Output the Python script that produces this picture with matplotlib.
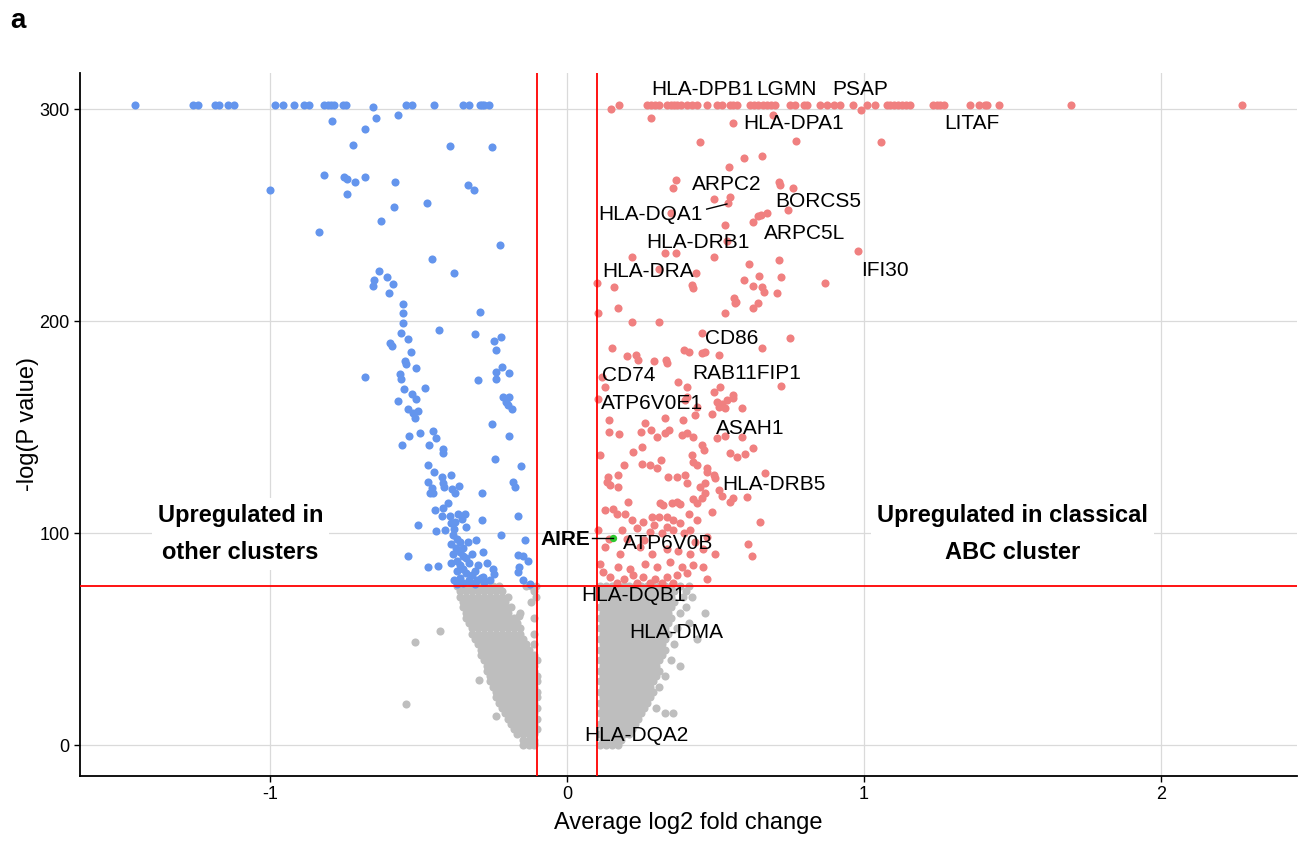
import numpy as np
import matplotlib
matplotlib.use("Agg")
import matplotlib.pyplot as plt

plt.rcParams['font.family'] = ['Liberation Sans', 'DejaVu Sans']
plt.rcParams['axes.unicode_minus'] = False

# ── data ──────────────────────────────────────────────────────────────────────
FC_CUT = 0.1
P_CUT = 75

# points capped at the top of the plot (-log p ~ 302)
blue_top_x = [-1.455, -1.259, -1.242, -1.185, -1.172, -1.141, -1.121, -0.983, -0.956,
              -0.919, -0.886, -0.869, -0.818, -0.805, -0.795, -0.785, -0.754, -0.744,
              -0.542, -0.522, -0.448, -0.350, -0.330, -0.293, -0.286, -0.279, -0.263]
red_top_x = [0.175, 0.268, 0.282, 0.296, 0.310, 0.336, 0.350, 0.360, 0.369, 0.385, 0.403,
             0.420, 0.437, 0.470, 0.504, 0.521, 0.549, 0.560, 0.571, 0.616, 0.630, 0.644,
             0.660, 0.672, 0.686, 0.700, 0.751, 0.766, 0.796, 0.808, 0.852, 0.874, 0.897,
             0.919, 0.964, 1.009, 1.037, 1.076, 1.088, 1.099, 1.113, 1.127, 1.140, 1.153,
             1.232, 1.245, 1.256, 1.269, 1.357, 1.387, 1.407, 1.414, 1.455, 1.697, 2.273]
TOP_Y = 302

blue_pts = [
    (-0.655, 301), (-0.791, 294.5), (-0.642, 296), (-0.57, 297), (-0.68, 290.5), (-0.72, 283),
    (-0.395, 282.5), (-0.253, 282), (-0.82, 269), (-0.75, 268), (-0.74, 267), (-0.715, 265.5),
    (-0.68, 268), (-0.58, 265.7), (-1.0, 262), (-0.74, 260), (-0.333, 264), (-0.313, 262),
    (-0.583, 253.8), (-0.471, 255.6), (-0.626, 247), (-0.835, 242), (-0.226, 236),
    (-0.455, 229.4), (-0.633, 223.6), (-0.65, 219.5), (-0.606, 221), (-0.586, 217.6),
    (-0.653, 216.3), (-0.599, 213.3), (-0.38, 222.8), (-0.552, 208), (-0.552, 204),
    (-0.293, 204.4), (-0.552, 199), (-0.431, 196), (-0.559, 194.3), (-0.535, 191.5),
    (-0.31, 193.9), (-0.246, 190.6), (-0.222, 192.5), (-0.596, 189.6), (-0.589, 188.4),
    (-0.525, 185.4), (-0.24, 186.3), (-0.545, 181), (-0.542, 179.7), (-0.51, 178),
    (-0.219, 178.4), (-0.239, 176), (-0.195, 175.6), (-0.239, 172.6), (-0.68, 173.7),
    (-0.562, 175), (-0.559, 172.8), (-0.3, 172.2), (-0.549, 168), (-0.478, 168.4),
    (-0.522, 165.6), (-0.508, 163.2), (-0.569, 162.3), (-0.215, 164.3), (-0.195, 164.3),
    (-0.205, 161.8), (-0.199, 160.2), (-0.185, 158.6), (-0.535, 158.5), (-0.519, 156.6),
    (-0.502, 157.7), (-0.512, 154.2), (-0.253, 151.4), (-0.495, 147.3), (-0.532, 145.8),
    (-0.451, 148), (-0.441, 144.8), (-0.195, 145.9), (-0.556, 141.5), (-0.465, 141.5),
    (-0.418, 139.8), (-0.418, 137.7), (-0.242, 135), (-0.468, 132), (-0.448, 129),
    (-0.155, 131.7), (-0.468, 124.2), (-0.421, 126.4), (-0.391, 127.4), (-0.418, 123.7),
    (-0.455, 121.2), (-0.461, 118.8), (-0.451, 119), (-0.414, 121.5), (-0.387, 120.6),
    (-0.364, 122.3), (-0.377, 118.7), (-0.182, 124), (-0.175, 121.7), (-0.286, 118.8),
    (-0.401, 114), (-0.444, 110.8), (-0.418, 111.8), (-0.421, 108), (-0.394, 108),
    (-0.367, 109), (-0.343, 109.1), (-0.353, 106.8), (-0.502, 103.8), (-0.441, 101),
    (-0.411, 101.4), (-0.391, 104.9), (-0.377, 105.3), (-0.34, 103), (-0.286, 106.1),
    (-0.165, 108), (-0.222, 99.2), (-0.141, 96.7), (-0.333, 95.9), (-0.306, 96.7),
    (-0.535, 89), (-0.468, 84), (-0.434, 84.6), (-0.283, 91), (-0.165, 89.6), (-0.148, 89.3),
    (-0.131, 86.8), (-0.249, 83), (-0.246, 80.7), (-0.162, 84), (-0.165, 81.7),
    (-0.148, 77.8), (-0.125, 75.9), (-0.3, 84.9), (-0.27, 85.8), (-0.283, 79.4),
    (-0.303, 77.8), (-0.35, 76.4), (-0.327, 77), (-0.38, 102), (-0.385, 99), (-0.37, 97),
    (-0.39, 95), (-0.375, 93), (-0.36, 91), (-0.385, 90), (-0.35, 89), (-0.37, 87),
    (-0.36, 85), (-0.34, 88), (-0.33, 86), (-0.35, 83), (-0.37, 82), (-0.34, 81),
    (-0.32, 80), (-0.36, 79), (-0.33, 78), (-0.38, 78), (-0.31, 82), (-0.29, 79),
    (-0.39, 86), (-0.36, 96), (-0.35, 93), (-0.32, 90), (-0.37, 76), (-0.31, 76),
    (-0.28, 77), (-0.26, 78),
]

red_pts = [
    (0.148, 300), (0.989, 299.5), (0.282, 295.6), (0.694, 297), (0.558, 293.6), (0.446, 284.4),
    (0.77, 284.9), (1.057, 284.4), (0.597, 276.7), (0.656, 278), (0.545, 272.5), (0.367, 266.5),
    (0.356, 262.6), (0.495, 257.4), (0.549, 258.3), (0.543, 255.5), (0.714, 265.7),
    (0.717, 264.2), (0.76, 262.6), (0.745, 252.4), (0.644, 249.7), (0.653, 250), (0.672, 250.8),
    (0.625, 246.5), (0.35, 251.1), (0.53, 245.4), (0.538, 237.9), (0.218, 230.3), (0.33, 232.2),
    (0.367, 231.9), (0.493, 230), (0.979, 233), (0.714, 228.8), (0.613, 226.9), (0.308, 224.5),
    (0.434, 222.5), (0.647, 221.2), (0.72, 220.6), (0.597, 219.3), (0.869, 218), (0.1, 217.8),
    (0.159, 216.2), (0.42, 217), (0.423, 215.4), (0.627, 216.5), (0.656, 215.9), (0.663, 213.5),
    (0.708, 213), (0.562, 210.7), (0.568, 209.1), (0.644, 208.3), (0.625, 206), (0.173, 206),
    (0.566, 208.5), (0.105, 203.6), (0.532, 203.6), (0.218, 199.7), (0.308, 199.7),
    (0.454, 194.5), (0.751, 192.1), (0.656, 187.1), (0.15, 187.1), (0.395, 186.3),
    (0.412, 185.5), (0.454, 184.7), (0.465, 185.5), (0.51, 184), (0.203, 183.5), (0.232, 184),
    (0.237, 181.6), (0.291, 181.1), (0.333, 181.6), (0.336, 180), (0.117, 173.4),
    (0.375, 171.4), (0.128, 168.7), (0.403, 168.7), (0.493, 166.6), (0.515, 168.7),
    (0.72, 169.3), (0.557, 165.3), (0.56, 163.9), (0.105, 163), (0.403, 164.2), (0.397, 162.7),
    (0.504, 161.9), (0.521, 161.1), (0.538, 162.7), (0.512, 159.6), (0.532, 158.8),
    (0.588, 159.1), (0.437, 159.6), (0.431, 155.7), (0.487, 156.1), (0.33, 154.1),
    (0.142, 153.3), (0.39, 153.3), (0.263, 151.7), (0.142, 147.8), (0.176, 146.6),
    (0.248, 147.8), (0.283, 148.6), (0.302, 145.4), (0.33, 147), (0.343, 148.6), (0.386, 146.2),
    (0.403, 147.3), (0.425, 145.1), (0.504, 144.6), (0.532, 145.8), (0.588, 145.4),
    (0.251, 140.7), (0.221, 138.4), (0.454, 141.5), (0.462, 139.3), (0.625, 139.9),
    (0.111, 136.8), (0.42, 136.8), (0.549, 137.6), (0.571, 135.9), (0.599, 137.2),
    (0.315, 134.6), (0.425, 133.5), (0.437, 132), (0.19, 132), (0.251, 132.8), (0.279, 132),
    (0.302, 130.5), (0.472, 130.5), (0.47, 128.9), (0.667, 128.1), (0.139, 126.5),
    (0.173, 127.4), (0.134, 124.2), (0.145, 122.6), (0.173, 121.8), (0.341, 126.5),
    (0.369, 126.5), (0.397, 127.4), (0.403, 123.7), (0.465, 123.7), (0.448, 121.8),
    (0.493, 127.4), (0.498, 125.8), (0.51, 120.3), (0.521, 117.5), (0.549, 114.8),
    (0.56, 116.4), (0.605, 117.2), (0.206, 114.8), (0.313, 114.3), (0.324, 113.2),
    (0.352, 114.3), (0.369, 114.8), (0.38, 113.7), (0.465, 118.9), (0.454, 116.4),
    (0.423, 115.9), (0.437, 114), (0.487, 110.1), (0.65, 105.3), (0.128, 110.8),
    (0.156, 111.5), (0.167, 109.2), (0.195, 109.2), (0.218, 106.1), (0.257, 105.3),
    (0.285, 107.6), (0.308, 107.6), (0.336, 107.6), (0.358, 106.1), (0.409, 109.2),
    (0.437, 106.1), (0.105, 101.4), (0.184, 101.4), (0.235, 102.2), (0.291, 103.8),
    (0.336, 103), (0.38, 104.6), (0.279, 100.6), (0.319, 99.8), (0.358, 101.4), (0.392, 99.8),
    (0.414, 101.4), (0.61, 95), (0.624, 89), (0.498, 90.3), (0.459, 92.6), (0.128, 93.4),
    (0.178, 90.3), (0.246, 93.4), (0.285, 90.3), (0.336, 92.6), (0.375, 91.5), (0.414, 90.3),
    (0.2, 97), (0.26, 96.5), (0.43, 96), (0.47, 98), (0.14, 97),
    (0.111, 85.6), (0.122, 81.7), (0.173, 84), (0.212, 83.2), (0.263, 85.6), (0.302, 84),
    (0.347, 86.4), (0.386, 84), (0.425, 84.9), (0.459, 84), (0.145, 79.4), (0.19, 78.5),
    (0.223, 80.2), (0.257, 79.4), (0.296, 78.5), (0.336, 79.4), (0.369, 80.2), (0.403, 81),
    (0.47, 78.5), (0.167, 76.2), (0.235, 76.2), (0.279, 76.2), (0.319, 76.2), (0.358, 76.2),
]

# non-significant genes, left cloud: (y, [x...]) rows
grey_left_rows = [
    (75.0, [-0.37, -0.35, -0.33, -0.31, -0.29, -0.27, -0.25, -0.23, -0.14, -0.12, -0.105]),
    (72.5, [-0.36, -0.34, -0.32, -0.30, -0.28, -0.26, -0.24, -0.22, -0.11]),
    (70.0, [-0.36, -0.34, -0.32, -0.30, -0.28, -0.26, -0.24, -0.22, -0.20, -0.105]),
    (67.5, [-0.35, -0.33, -0.31, -0.29, -0.27, -0.25, -0.23, -0.21, -0.12]),
    (65.0, [-0.35, -0.33, -0.31, -0.29, -0.27, -0.25, -0.23, -0.21, -0.19]),
    (62.5, [-0.34, -0.32, -0.30, -0.28, -0.26, -0.24, -0.22, -0.20, -0.16]),
    (60.0, [-0.34, -0.32, -0.30, -0.28, -0.26, -0.24, -0.22, -0.20, -0.18, -0.11]),
    (57.5, [-0.33, -0.31, -0.29, -0.27, -0.25, -0.23, -0.21, -0.19, -0.17]),
    (55.0, [-0.32, -0.30, -0.28, -0.26, -0.24, -0.22, -0.20, -0.18, -0.16]),
    (52.5, [-0.32, -0.30, -0.28, -0.26, -0.24, -0.22, -0.20, -0.18, -0.16, -0.11]),
    (50.0, [-0.31, -0.29, -0.27, -0.25, -0.23, -0.21, -0.19, -0.17, -0.15]),
    (47.5, [-0.30, -0.28, -0.26, -0.24, -0.22, -0.20, -0.18, -0.16, -0.14, -0.11]),
    (45.0, [-0.29, -0.27, -0.25, -0.23, -0.21, -0.19, -0.17, -0.15, -0.13]),
    (42.5, [-0.29, -0.27, -0.25, -0.23, -0.21, -0.19, -0.17, -0.15, -0.13, -0.11]),
    (40.0, [-0.28, -0.26, -0.24, -0.22, -0.20, -0.18, -0.16, -0.14, -0.12, -0.10]),
    (37.5, [-0.27, -0.25, -0.23, -0.21, -0.19, -0.17, -0.15, -0.13, -0.11]),
    (35.0, [-0.27, -0.25, -0.23, -0.21, -0.19, -0.17, -0.15, -0.13, -0.11]),
    (32.5, [-0.26, -0.24, -0.22, -0.20, -0.18, -0.16, -0.14, -0.12, -0.10]),
    (30.0, [-0.26, -0.24, -0.22, -0.20, -0.18, -0.16, -0.14, -0.12, -0.10]),
    (27.5, [-0.25, -0.23, -0.21, -0.19, -0.17, -0.15, -0.13, -0.11]),
    (25.0, [-0.24, -0.22, -0.20, -0.18, -0.16, -0.14, -0.12, -0.10]),
    (22.5, [-0.24, -0.22, -0.20, -0.18, -0.16, -0.14, -0.12, -0.10]),
    (20.0, [-0.23, -0.21, -0.19, -0.17, -0.15, -0.13, -0.11]),
    (17.5, [-0.22, -0.20, -0.18, -0.16, -0.14, -0.12, -0.10]),
    (15.0, [-0.21, -0.19, -0.17, -0.15, -0.13, -0.11]),
    (12.5, [-0.20, -0.18, -0.16, -0.14, -0.12, -0.10]),
    (10.0, [-0.19, -0.17, -0.15, -0.13, -0.11]),
    (7.5, [-0.18, -0.16, -0.14, -0.12, -0.10]),
    (5.0, [-0.17, -0.15, -0.13, -0.11]),
    (2.5, [-0.15, -0.13, -0.11]),
    (0.0, [-0.13, -0.11]),
]
grey_left_extra = [(-0.428, 53.8), (-0.512, 48.7), (-0.296, 30.7), (-0.542, 19.2),
                   (-0.24, 13.8), (-0.149, 0.2), (-0.113, 0.8), (-0.162, 61)]

grey_right_rows = [
    (75.0, [0.11, 0.13, 0.15, 0.17, 0.19, 0.21, 0.23, 0.25, 0.27, 0.29, 0.31, 0.33, 0.35, 0.38, 0.41]),
    (72.5, [0.12, 0.14, 0.16, 0.18, 0.20, 0.22, 0.24, 0.26, 0.28, 0.30, 0.32, 0.34, 0.36, 0.40]),
    (70.0, [0.11, 0.13, 0.15, 0.17, 0.19, 0.21, 0.23, 0.25, 0.27, 0.29, 0.31, 0.33, 0.35, 0.39, 0.42]),
    (67.5, [0.12, 0.14, 0.16, 0.18, 0.20, 0.22, 0.24, 0.26, 0.28, 0.30, 0.32, 0.34, 0.36]),
    (65.0, [0.11, 0.13, 0.15, 0.17, 0.19, 0.21, 0.23, 0.25, 0.27, 0.29, 0.31, 0.33, 0.35, 0.40]),
    (62.5, [0.12, 0.14, 0.16, 0.18, 0.20, 0.22, 0.24, 0.26, 0.28, 0.30, 0.32, 0.34, 0.38, 0.465]),
    (60.0, [0.11, 0.13, 0.15, 0.17, 0.19, 0.21, 0.23, 0.25, 0.27, 0.29, 0.31, 0.33, 0.35]),
    (57.5, [0.12, 0.14, 0.16, 0.18, 0.20, 0.22, 0.24, 0.26, 0.28, 0.30, 0.32, 0.34, 0.41]),
    (55.0, [0.11, 0.13, 0.15, 0.17, 0.19, 0.21, 0.23, 0.25, 0.27, 0.29, 0.31, 0.33, 0.37]),
    (52.5, [0.12, 0.14, 0.16, 0.18, 0.20, 0.22, 0.24, 0.26, 0.28, 0.30, 0.32, 0.34]),
    (50.0, [0.11, 0.13, 0.15, 0.17, 0.19, 0.21, 0.23, 0.25, 0.27, 0.29, 0.31, 0.33, 0.437]),
    (47.5, [0.12, 0.14, 0.16, 0.18, 0.20, 0.22, 0.24, 0.26, 0.28, 0.30, 0.32, 0.36]),
    (45.0, [0.11, 0.13, 0.15, 0.17, 0.19, 0.21, 0.23, 0.25, 0.27, 0.29, 0.31, 0.33]),
    (42.5, [0.12, 0.14, 0.16, 0.18, 0.20, 0.22, 0.24, 0.26, 0.28, 0.30, 0.32]),
    (40.0, [0.11, 0.13, 0.15, 0.17, 0.19, 0.21, 0.23, 0.25, 0.27, 0.29, 0.31, 0.35]),
    (37.5, [0.12, 0.14, 0.16, 0.18, 0.20, 0.22, 0.24, 0.26, 0.28, 0.30, 0.38]),
    (35.0, [0.11, 0.13, 0.15, 0.17, 0.19, 0.21, 0.23, 0.25, 0.27, 0.29, 0.31]),
    (32.5, [0.12, 0.14, 0.16, 0.18, 0.20, 0.22, 0.24, 0.26, 0.28, 0.30, 0.33]),
    (30.0, [0.11, 0.13, 0.15, 0.17, 0.19, 0.21, 0.23, 0.25, 0.27, 0.29]),
    (27.5, [0.12, 0.14, 0.16, 0.18, 0.20, 0.22, 0.24, 0.26, 0.28, 0.31]),
    (25.0, [0.11, 0.13, 0.15, 0.17, 0.19, 0.21, 0.23, 0.25, 0.27, 0.29]),
    (22.5, [0.12, 0.14, 0.16, 0.18, 0.20, 0.22, 0.24, 0.26, 0.28]),
    (20.0, [0.11, 0.13, 0.15, 0.17, 0.19, 0.21, 0.23, 0.25, 0.27]),
    (17.5, [0.12, 0.14, 0.16, 0.18, 0.20, 0.22, 0.24, 0.26, 0.30]),
    (15.0, [0.11, 0.13, 0.15, 0.17, 0.19, 0.21, 0.23, 0.25, 0.33, 0.358]),
    (12.5, [0.12, 0.14, 0.16, 0.18, 0.20, 0.22, 0.24]),
    (10.0, [0.11, 0.13, 0.15, 0.17, 0.19, 0.21, 0.23]),
    (7.5, [0.12, 0.14, 0.16, 0.18, 0.20, 0.22]),
    (5.0, [0.11, 0.13, 0.15, 0.17, 0.19, 0.21]),
    (2.5, [0.12, 0.14, 0.16, 0.18]),
    (0.0, [0.11, 0.13, 0.15, 0.17]),
]

aire_pt = (0.156, 97.5)

gene_labels = [
    ("HLA-DPB1", 0.455, 309), ("LGMN", 0.737, 309), ("PSAP", 0.987, 309),
    ("HLA-DPA1", 0.761, 293), ("LITAF", 1.364, 293), ("ARPC2", 0.539, 264.6),
    ("BORCS5", 0.845, 256.5), ("HLA-DQA1", 0.279, 250.4), ("HLA-DRB1", 0.441, 237.2),
    ("ARPC5L", 0.801, 241.1), ("HLA-DRA", 0.274, 223.3), ("IFI30", 1.071, 223.8),
    ("CD86", 0.555, 191.6), ("CD74", 0.206, 174.3), ("RAB11FIP1", 0.605, 175.1),
    ("ATP6V0E1", 0.285, 160.9), ("ASAH1", 0.616, 149.5), ("HLA-DRB5", 0.695, 122.7),
    ("ATP6V0B", 0.341, 94.9), ("HLA-DQB1", 0.222, 70.7), ("HLA-DMA", 0.367, 53.2),
    ("HLA-DQA2", 0.232, 4.7),
]


def rows_to_xy(rows, extra=()):
    xs = [x for y, row in rows for x in row] + [p[0] for p in extra]
    ys = [y for y, row in rows for _ in row] + [p[1] for p in extra]
    return np.array(xs), np.array(ys)


gl_x, gl_y = rows_to_xy(grey_left_rows, grey_left_extra)
gr_x, gr_y = rows_to_xy(grey_right_rows)
blue = np.array(blue_pts)
red = np.array(red_pts)

# ── plot ──────────────────────────────────────────────────────────────────────
fig = plt.figure(figsize=(13.06, 8.41), dpi=100)
ax = fig.add_axes([0.0613, 0.0773, 0.9319, 0.8359])

S = 34
ax.scatter(gl_x, gl_y, s=S, c="#BEBEBE", lw=0, zorder=2)
ax.scatter(gr_x, gr_y, s=S, c="#BEBEBE", lw=0, zorder=2)
ax.scatter(blue[:, 0], blue[:, 1], s=S, c="#6495ED", lw=0, zorder=3)
ax.scatter(blue_top_x, [TOP_Y] * len(blue_top_x), s=S, c="#6495ED", lw=0, zorder=3)
ax.scatter(red[:, 0], red[:, 1], s=S, c="#F08080", lw=0, zorder=3)
ax.scatter(red_top_x, [TOP_Y] * len(red_top_x), s=S, c="#F08080", lw=0, zorder=3)
ax.scatter([aire_pt[0]], [aire_pt[1]], s=28, c="#2EC82E", lw=0, zorder=5)

ax.axvline(-FC_CUT, color="#FF0000", lw=1.3, zorder=4)
ax.axvline(FC_CUT, color="#FF0000", lw=1.3, zorder=4)
ax.axhline(P_CUT, color="#FF0000", lw=1.3, zorder=4)

for name, x, y in gene_labels:
    ax.text(x, y, name, ha="center", va="center", fontsize=15, zorder=6)

# label connectors
ax.plot([0.47, 0.538], [252.8, 255.2], color="black", lw=1, zorder=6)
ax.plot([0.083, aire_pt[0]], [aire_pt[1], aire_pt[1]], color="black", lw=1, zorder=6)
ax.text(-0.007, 96.8, "AIRE", ha="center", va="center", fontsize=15,
        fontweight="bold", zorder=6)

box = dict(boxstyle="square,pad=0.25", fc="white", ec="none")
ax.text(-1.1, 99.5, "Upregulated in\nother clusters", ha="center", va="center",
        fontsize=17, fontweight="bold", linespacing=1.75, bbox=box, zorder=6)
ax.text(1.5, 99.5, "Upregulated in classical\nABC cluster", ha="center", va="center",
        fontsize=17, fontweight="bold", linespacing=1.75, bbox=box, zorder=6)

ax.set_xlim(-1.64, 2.458)
ax.set_ylim(-14.6, 317)
ax.set_xticks([-1, 0, 1, 2])
ax.set_yticks([0, 100, 200, 300])
ax.grid(True, color="#DADADA", lw=0.9, zorder=0)
ax.set_axisbelow(True)
for side in ("top", "right"):
    ax.spines[side].set_visible(False)
for side in ("left", "bottom"):
    ax.spines[side].set_linewidth(1.3)
ax.tick_params(labelsize=13, length=4, width=1)
ax.set_xlabel("Average log2 fold change", fontsize=17, labelpad=6)
ax.set_ylabel("-log(P value)", fontsize=17, labelpad=0)

fig.text(0.008, 0.975, "a", fontsize=20, fontweight="bold", ha="left", va="center")

fig.savefig("out.png", dpi=100)
